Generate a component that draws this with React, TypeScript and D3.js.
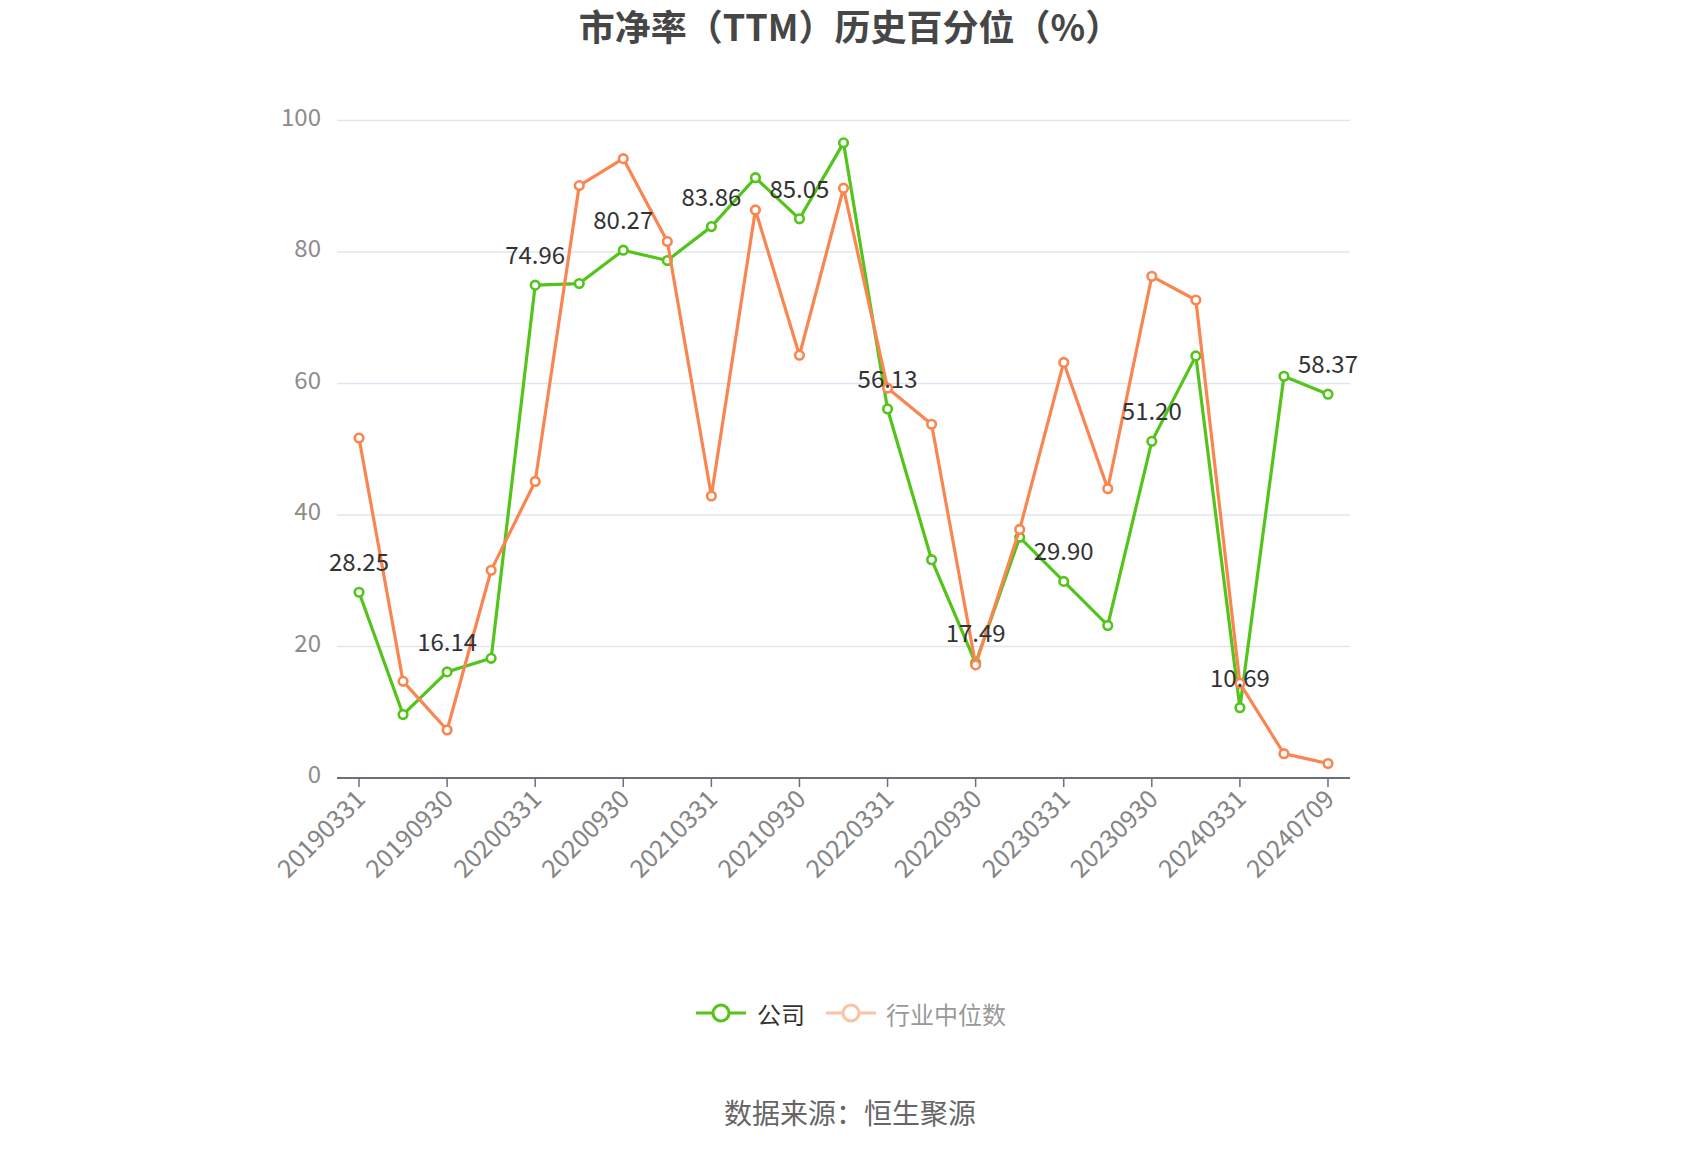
import React from "react";
import * as d3 from "d3";

const dates = [
  "20190331", "20190630", "20190930", "20191231",
  "20200331", "20200630", "20200930", "20201231",
  "20210331", "20210630", "20210930", "20211231",
  "20220331", "20220630", "20220930", "20221231",
  "20230331", "20230630", "20230930", "20231231",
  "20240331", "20240630", "20240709",
];

const companyValues = [
  28.25, 9.65, 16.14, 18.2,
  74.96, 75.2, 80.27, 78.7,
  83.86, 91.3, 85.05, 96.6,
  56.13, 33.2, 17.49, 36.6,
  29.9, 23.2, 51.2, 64.2,
  10.69, 61.1, 58.37,
];

const industryValues = [
  51.7, 14.7, 7.3, 31.6,
  45.1, 90.1, 94.2, 81.6,
  42.9, 86.4, 64.3, 89.7,
  59.3, 53.8, 17.2, 37.8,
  63.2, 44.0, 76.3, 72.7,
  14.4, 3.7, 2.2,
];

const yTicks = [0, 20, 40, 60, 80, 100];
const seriesNames = ["公司", "行业中位数"];
const titleText = "市净率（TTM）历史百分位（%）";
const sourceText = "数据来源：恒生聚源";

const W = 1700;
const H = 1150;
const FONT = "'Noto Sans CJK SC', 'Noto Sans', sans-serif";
const GREEN = "#52c41a";
const ORANGE = "#f98650";

export default function App() {
  const x = d3
    .scaleBand<number>()
    .domain(d3.range(dates.length))
    .range([337, 1350])
    .paddingInner(0)
    .paddingOuter(0);
  const cx = (i: number) => (x(i) as number) + x.bandwidth() / 2;
  const y = d3.scaleLinear().domain([0, 100]).range([778, 120.5]);

  const line = d3
    .line<number>()
    .x((_, i) => cx(i))
    .y((d) => y(d));

  const labelIdx = d3.range(0, dates.length, 2);

  const renderSeries = (vals: number[], color: string) => (
    <g>
      <path d={line(vals) || ""} fill="none" stroke={color} strokeWidth={3.2} strokeLinejoin="round" />
      {vals.map((v, i) => (
        <circle key={i} cx={cx(i)} cy={y(v)} r={4.3} fill="#fff" stroke={color} strokeWidth={2.6} />
      ))}
    </g>
  );

  return (
    <svg
      width={W}
      height={H}
      style={{ position: "absolute", left: 0, top: 0, background: "#fff" }}
      fontFamily={FONT}
    >
      <text x={850} y={25} textAnchor="middle" dominantBaseline="central" fontSize={36} fontWeight="bold" fill="#464646">
        {titleText}
      </text>

      {/* grid + y labels */}
      {yTicks.map((t) => (
        <g key={t}>
          {t !== 0 && (
            <line x1={337} x2={1350} y1={y(t)} y2={y(t)} stroke="#E0E6F1" strokeWidth={1.5} />
          )}
          <text x={321} y={y(t) + 5} textAnchor="end" fontSize={24} fill="#8c8c8c">
            {t}
          </text>
        </g>
      ))}

      {/* x axis */}
      <line x1={337} x2={1350} y1={778} y2={778} stroke="#6E7079" strokeWidth={2} />
      {labelIdx.map((i) => (
        <g key={i}>
          <line x1={cx(i)} x2={cx(i)} y1={778} y2={787} stroke="#6E7079" strokeWidth={1.5} />
          <text
            transform={`translate(${cx(i)},${793}) rotate(-45)`}
            textAnchor="end"
            dominantBaseline="central"
            fontSize={25}
            fill="#858585"
          >
            {dates[i]}
          </text>
        </g>
      ))}

      {renderSeries(companyValues, GREEN)}
      {renderSeries(industryValues, ORANGE)}

      {/* data labels */}
      {labelIdx.map((i) => (
        <text key={i} x={cx(i)} y={y(companyValues[i]) - 21} textAnchor="middle" fontSize={24} fill="#333">
          {companyValues[i].toFixed(2)}
        </text>
      ))}

      {/* legend */}
      <g>
        <line x1={696} x2={746} y1={1013} y2={1013} stroke={GREEN} strokeWidth={3} />
        <circle cx={721} cy={1013} r={8} fill="#fff" stroke={GREEN} strokeWidth={3} />
        <text x={757} y={1013} dominantBaseline="central" fontSize={24} fill="#333">
          {seriesNames[0]}
        </text>
        <g opacity={0.5}>
          <line x1={826} x2={876} y1={1013} y2={1013} stroke={ORANGE} strokeWidth={3} />
          <circle cx={851} cy={1013} r={8} fill="#fff" stroke={ORANGE} strokeWidth={3} />
        </g>
        <text x={886} y={1013} dominantBaseline="central" fontSize={24} fill="#999">
          {seriesNames[1]}
        </text>
      </g>

      <text x={850} y={1112} textAnchor="middle" dominantBaseline="central" fontSize={28} fill="#666">
        {sourceText}
      </text>
    </svg>
  );
}
